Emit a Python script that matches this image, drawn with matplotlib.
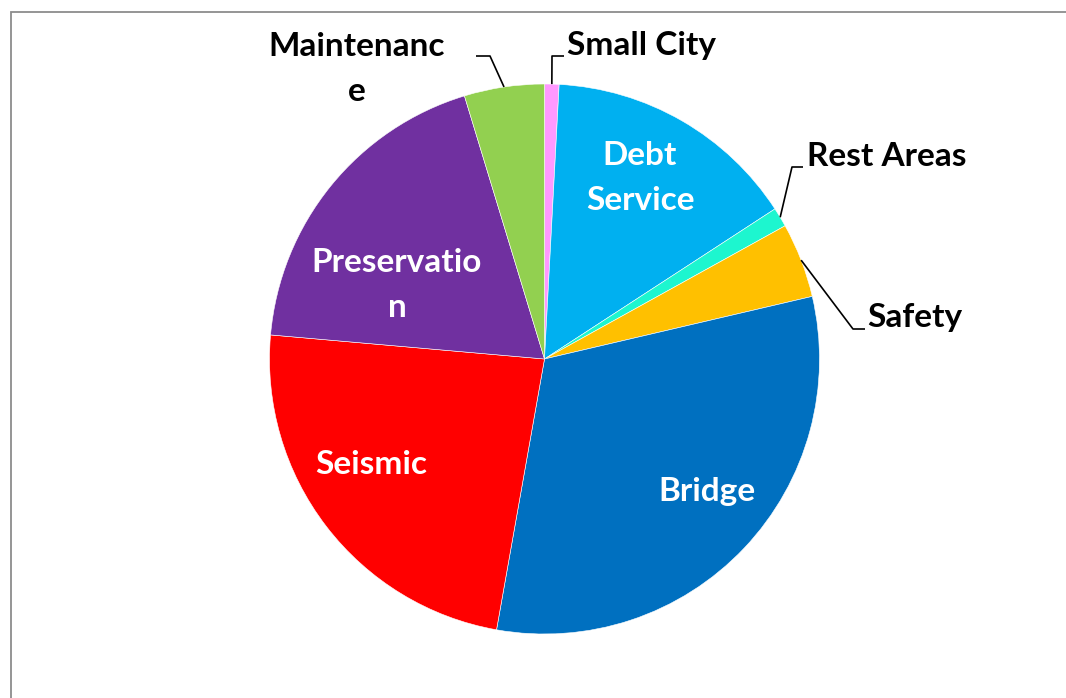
import matplotlib.pyplot as plt
from matplotlib.patches import Rectangle
import numpy as np

plt.rcParams['font.family'] = ['Lato', 'DejaVu Sans']

# valores (percentuais aproximados)
categorias = ["Small City", "Debt Service", "Rest Areas", "Safety",
              "Bridge", "Seismic", "Preservation", "Maintenance"]
valores = [0.85, 14.96, 1.14, 4.39, 31.44, 23.6, 18.9, 4.7]
cores = ["#FF99FF", "#00B0F0", "#1DF6CF", "#FFC000",
         "#0070C0", "#FF0000", "#7030A0", "#92D050"]

W, H = 1066, 698
fig = plt.figure(figsize=(W / 100, H / 100), dpi=100)
ax = fig.add_axes([0, 0, 1, 1])

cx, cy, r = 544.5, H - 359, 275
wedges, _ = ax.pie(valores, colors=cores, startangle=90, counterclock=False,
                   center=(cx, cy), radius=r, frame=True,
                   wedgeprops=dict(edgecolor="white", linewidth=0.4))
ax.set_xlim(0, W)
ax.set_ylim(0, H)
ax.set_aspect("equal")
ax.axis("off")

# moldura cinza do gráfico
ax.add_patch(Rectangle((11, -50), W + 50, H - 12 + 50, fill=False,
                       edgecolor="#8C8C8C", linewidth=1.3))


def ponto_borda(i, frac=0.5, dist=1.0):
    # ponto na borda da fatia i (frac = posição angular dentro da fatia)
    acum = np.cumsum([0] + valores)
    ang = 90 - 360 * (acum[i] + frac * valores[i]) / sum(valores)
    a = np.deg2rad(ang)
    return cx + dist * r * np.cos(a), cy + dist * r * np.sin(a)


# rótulos internos (brancos)
internos = {
    "Debt\nService": (640, 178),
    "Bridge": (707, 492),
    "Seismic": (371, 465),
    "Preservatio\nn": (397, 285),
}
for txt, (x, y) in internos.items():
    ax.text(x, H - y, txt, color="white", fontsize=24, fontweight="bold",
            ha="center", va="center", linespacing=1.65)

# rótulos externos com linhas de chamada
externos = [
    # (indice, texto, cotovelo, fim horizontal, pos texto, ha)
    (0, "Small City", (552, 56), (564, 56), (567, 46), "left"),
    (2, "Rest Areas", (792, 167), (803, 167), (807, 157), "left"),
    (3, "Safety", (853, 329), (865, 329), (867, 318), "left"),
    (7, "Maintenanc\ne", (490, 56), (476, 56), (357, 69), "center"),
]
for i, txt, cot, fim, pos, ha in externos:
    x0, y0 = ponto_borda(i, dist=1.0)
    ax.plot([x0, cot[0], fim[0]], [y0, H - cot[1], H - fim[1]],
            color="black", linewidth=1.2, solid_capstyle="butt")
    ax.text(pos[0], H - pos[1], txt, color="black", fontsize=24,
            fontweight="bold", ha=ha, va="center", linespacing=1.65)

fig.savefig("out.png", dpi=100)
